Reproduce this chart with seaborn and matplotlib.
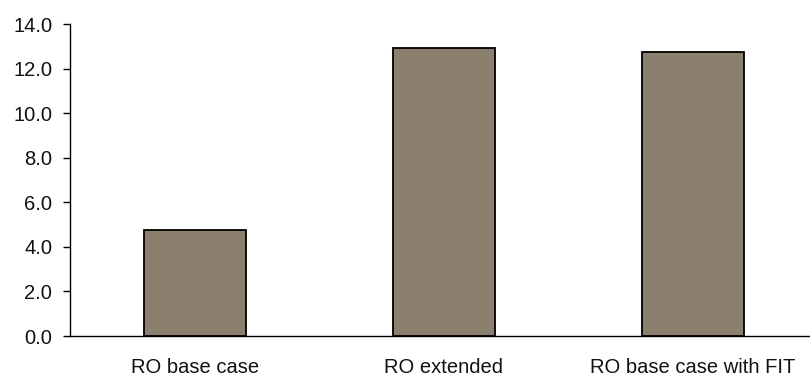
import matplotlib
matplotlib.use("Agg")
import matplotlib.pyplot as plt
import seaborn as sns
import pandas as pd

categories = ["RO base case", "RO extended", "RO base case with FIT"]
values = [4.75, 12.92, 12.75]
y_ticks = [0, 2, 4, 6, 8, 10, 12, 14]

sns.set_theme(style="white")
plt.rcParams["font.family"] = ["Liberation Sans", "DejaVu Sans"]

df = pd.DataFrame({"scenario": categories, "value": values})

fig = plt.figure(figsize=(8.10, 3.76), dpi=100)
ax = fig.add_axes([70.3 / 810, 40 / 376, 747 / 810, 312 / 376])

sns.barplot(data=df, x="scenario", y="value", color="#8b7f6e", saturation=1,
            width=0.41, edgecolor="black", linewidth=1.3, ax=ax)

ax.set_xlim(-0.5, 2.5)
ax.set_ylim(0, 14)
ax.set_yticks(y_ticks)
ax.set_yticklabels([f"{t:.1f}" for t in y_ticks], fontsize=14.5, color="#111111")
ax.set_xticks([0, 1, 2])
ax.set_xticklabels(categories, fontsize=14.5, color="#111111")
ax.set_xticks([-0.5, 0.5, 1.5, 2.5], minor=True)
ax.tick_params(axis="x", which="major", length=0, pad=16)
ax.tick_params(axis="x", which="minor", length=5, width=1, color="black", direction="out")
ax.tick_params(axis="y", which="major", length=5, width=1, color="black", direction="out", pad=8, left=True)
ax.set_xlabel("")
ax.set_ylabel("")

for side in ("top", "right"):
    ax.spines[side].set_visible(False)
for side in ("left", "bottom"):
    ax.spines[side].set_color("black")
    ax.spines[side].set_linewidth(1)

fig.savefig("out.png", dpi=100, facecolor="white")
